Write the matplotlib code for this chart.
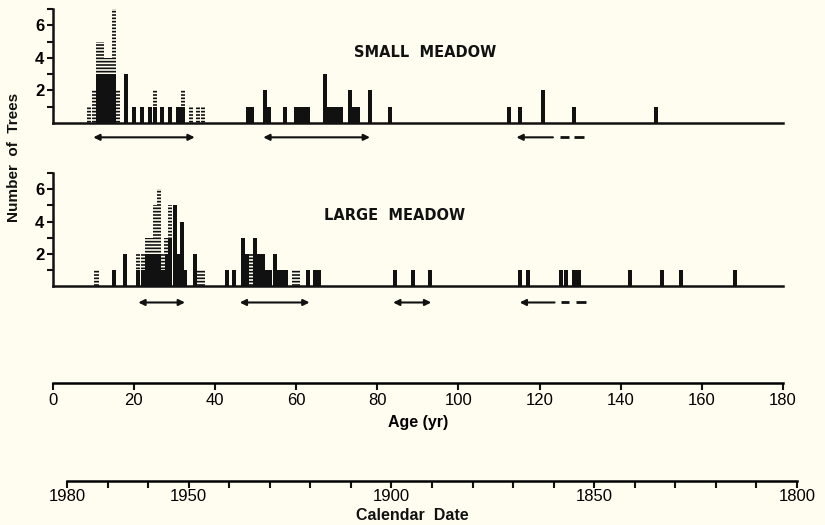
import numpy as np
import matplotlib
matplotlib.use("Agg")
import matplotlib.pyplot as plt
from matplotlib.ticker import MultipleLocator, FixedLocator

# tree ages (yr) - solid part and hatched part stacked on top
small_age = [9.0, 10.1, 11.2, 12.1, 13.0, 14.0, 15.1, 16.2, 18.1, 20.0, 21.9, 24.0, 25.1,
             26.9, 28.8, 31.0, 32.1, 34.0, 35.9, 37.0,
             48.2, 49.1, 52.3, 53.2, 57.2, 60.0, 61.0, 62.0, 63.0, 67.1, 68.1, 69.1, 70.1,
             71.1, 73.2, 74.2, 75.2, 78.2, 83.1, 112.5, 115.2, 120.8, 128.6, 148.8]
small_solid = [0, 0, 3, 3, 3, 3, 3, 0, 3, 1, 1, 1, 1, 1, 1, 1, 1, 0, 0, 0,
               1, 1, 2, 1, 1, 1, 1, 1, 1, 3, 1, 1, 1, 1, 2, 1, 1, 2, 1, 1, 1, 2, 1, 1]
small_hatch = [1, 2, 2, 2, 1, 1, 4, 2, 0, 0, 0, 0, 1, 0, 0, 0, 1, 1, 1, 1,
               0, 0, 0, 0, 0, 0, 0, 0, 0, 0, 0, 0, 0, 0, 0, 0, 0, 0, 0, 0, 0, 0, 0, 0]

large_age = [10.8, 15.0, 17.9, 21.1, 22.2, 23.3, 24.3, 25.3, 26.3, 27.2, 28.0, 29.0, 30.1,
             31.0, 31.8, 32.7, 35.1, 36.0, 37.0, 43.0, 44.8, 46.9, 47.8, 48.8, 49.9, 50.9,
             51.9, 52.7, 53.6, 54.7, 55.6, 56.6, 57.5, 59.5, 60.5, 62.9, 64.7, 65.7,
             84.3, 88.8, 92.9, 115.1, 117.1, 125.2, 126.6, 128.6, 129.6, 142.2, 150.1,
             154.8, 168.1]
large_solid = [0, 1, 2, 1, 1, 2, 2, 2, 2, 1, 2, 3, 5, 2, 4, 1, 2, 0, 0, 1, 1, 3, 2, 0, 3, 2,
               2, 1, 1, 2, 1, 1, 1, 0, 0, 1, 1, 1,
               1, 1, 1, 1, 1, 1, 1, 1, 1, 1, 1, 1, 1]
large_hatch = [1, 0, 0, 1, 1, 1, 1, 3, 4, 1, 1, 2, 0, 0, 0, 0, 0, 1, 1, 0, 0, 0, 0, 2, 0, 0,
               0, 0, 0, 0, 0, 0, 0, 1, 1, 0, 0, 0,
               0, 0, 0, 0, 0, 0, 0, 0, 0, 0, 0, 0, 0]

# age-class arrows under each panel (start, end); last one has a dashed tail
small_arrows = [(10.0, 35.0), (51.9, 78.2)]
small_open = (123.3, 114.3)
small_dashes = [(125.0, 127.3), (128.6, 130.9)]
large_arrows = [(21.1, 32.6), (46.1, 63.3), (83.9, 93.3)]
large_open = (123.7, 115.1)
large_dashes = [(125.4, 127.2), (129.0, 131.5)]

age_ticks = list(range(0, 181, 20))
date_ticks = [1980, 1950, 1900, 1850, 1800]

bg = '#fffdf0'
ink = '#111111'
plt.rcParams['font.family'] = ['Liberation Sans', 'DejaVu Sans']
plt.rcParams['hatch.linewidth'] = 1.2

W, H = 825, 525
fig = plt.figure(figsize=(8.25, 5.25), dpi=100, facecolor=bg)


def px_axes(x0, y0, x1, y1):
    # pixel box (top-left origin) -> figure fraction axes
    return fig.add_axes([x0 / W, 1 - y1 / H, (x1 - x0) / W, (y1 - y0) / H])


def panel(ax, age, solid, hatch, arrows, open_arrow, dashes, title, tx, ty, ay):
    ax.set_facecolor('none')
    ax.bar(age, solid, width=1.0, align='center', color=ink, linewidth=0)
    age_h = [a for a, h in zip(age, hatch) if h > 0]
    bot_h = [s for s, h in zip(solid, hatch) if h > 0]
    hh = [h for h in hatch if h > 0]
    ax.bar(age_h, hh, width=1.0, bottom=bot_h, color=bg, edgecolor=ink,
           hatch='-----', linewidth=0)
    ax.set_xlim(0, 180)
    ax.set_ylim(0, 7)
    for s in ['top', 'right']:
        ax.spines[s].set_visible(False)
    ax.spines['left'].set_linewidth(1.8)
    ax.spines['bottom'].set_linewidth(1.8)
    ax.spines['left'].set_color(ink)
    ax.spines['bottom'].set_color(ink)
    ax.set_xticks([])
    ax.set_yticks([2, 4, 6])
    ax.yaxis.set_minor_locator(FixedLocator([1, 3, 5, 7]))
    ax.tick_params(axis='y', which='both', direction='out', length=4, width=1.5,
                   color=ink, labelsize=12, pad=2)
    for lab in ax.get_yticklabels():
        lab.set_fontweight('bold')
    ax.text(tx, ty, title, ha='center', va='center', fontsize=10.5,
            family='DejaVu Sans', fontweight='bold', color=ink)
    for a0, a1 in arrows:
        ax.annotate('', xy=(a1, ay), xytext=(a0, ay), annotation_clip=False,
                    arrowprops=dict(arrowstyle='<|-|>', lw=1.5, color=ink,
                                    mutation_scale=9, shrinkA=0, shrinkB=0))
    ax.annotate('', xy=(open_arrow[1], ay), xytext=(open_arrow[0], ay),
                annotation_clip=False,
                arrowprops=dict(arrowstyle='-|>', lw=1.5, color=ink,
                                mutation_scale=9, shrinkA=0, shrinkB=0))
    for d0, d1 in dashes:
        ax.plot([d0, d1], [ay, ay], color=ink, lw=2, clip_on=False,
                solid_capstyle='butt')


ax1 = px_axes(52.7, 9, 783, 123)
panel(ax1, small_age, small_solid, small_hatch, small_arrows, small_open,
      small_dashes, 'SMALL  MEADOW', 91.7, 4.35, -0.88)

ax2 = px_axes(52.7, 173, 783, 286.3)
panel(ax2, large_age, large_solid, large_hatch, large_arrows, large_open,
      large_dashes, 'LARGE  MEADOW', 84.3, 4.4, -1.0)

fig.text(14 / W, 1 - 157 / H, 'Number  of  Trees', rotation=90, ha='center',
         va='center', fontsize=11, fontweight='bold', color=ink)

# age axis
ax_age = px_axes(52.7, 382, 783, 383)
ax_age.set_facecolor('none')
for s in ['top', 'right', 'left']:
    ax_age.spines[s].set_visible(False)
ax_age.spines['bottom'].set_linewidth(1.8)
ax_age.set_xlim(0, 180)
ax_age.set_yticks([])
ax_age.set_xticks(age_ticks)
ax_age.tick_params(axis='x', direction='out', length=5, width=1.5, labelsize=12,
                   pad=2, color=ink)
ax_age.set_xlabel('Age (yr)', fontsize=11.5, fontweight='bold', labelpad=5)

# calendar axis
ax_cal = px_axes(67, 480, 797, 481)
ax_cal.set_facecolor('none')
for s in ['top', 'right', 'left']:
    ax_cal.spines[s].set_visible(False)
ax_cal.spines['bottom'].set_linewidth(1.8)
ax_cal.set_xlim(1980, 1800)
ax_cal.set_yticks([])
ax_cal.set_xticks(date_ticks)
ax_cal.xaxis.set_minor_locator(MultipleLocator(10))
ax_cal.tick_params(axis='x', which='both', direction='out', length=5, width=1.5,
                   labelsize=12, pad=1, color=ink)
fig.text(412 / W, 1 - 516 / H, 'Calendar  Date', ha='center', va='center',
         fontsize=11.5, fontweight='bold', color=ink)

fig.savefig('out.png', dpi=100, facecolor=bg)
